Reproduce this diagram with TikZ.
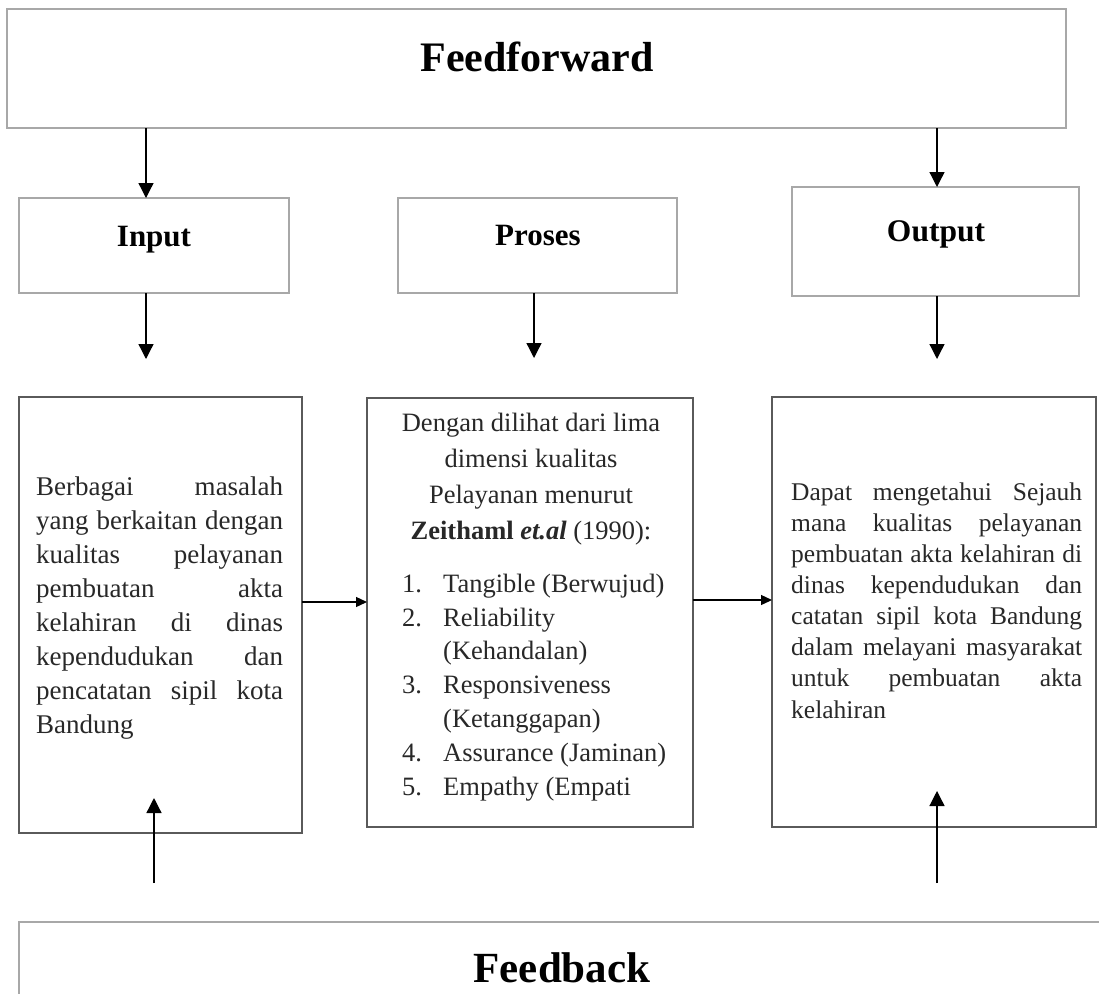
\documentclass[tikz,border=0pt]{standalone}
\usepackage{fontspec}
\setmainfont{Liberation Serif}
\usetikzlibrary{arrows.meta}
\definecolor{boxgrey}{RGB}{168,168,168}
\definecolor{boxdark}{RGB}{90,90,90}
\definecolor{bodytext}{RGB}{40,40,40}
\begin{document}
\begin{tikzpicture}[x=1pt,y=-1pt,
  lightbox/.style={draw=boxgrey, line width=2.5pt, fill=white, rectangle, inner sep=0pt, outer sep=0pt},
  darkbox/.style={draw=boxdark, line width=2.5pt, fill=white, rectangle, inner sep=0pt, outer sep=0pt},
  arr/.style={draw=black, line width=1.3pt, -{Triangle[width=15pt,length=15pt]}},
  harr/.style={draw=black, line width=1.3pt, -{Triangle[width=10pt,length=11pt]}},
  title/.style={font=\fontsize{42}{50}\selectfont\bfseries, inner sep=0pt, anchor=base},
  head/.style={font=\fontsize{31}{37}\selectfont\bfseries, inner sep=0pt, anchor=base},
  body/.style={inner sep=0pt, text=bodytext}
]
\useasboundingbox (0,0) rectangle (1099,993);
\clip (0,0) rectangle (1099,993);

% boxes
\node[lightbox, minimum width=1059pt, minimum height=119pt] (ff) at (536.5,68.5) {};
\node[lightbox, minimum width=270pt, minimum height=95pt] (in) at (154,245.5) {};
\node[lightbox, minimum width=279pt, minimum height=95pt] (pr) at (537.5,245.5) {};
\node[lightbox, minimum width=287pt, minimum height=109pt] (ou) at (935.5,241.5) {};
\node[darkbox, minimum width=283pt, minimum height=436pt] (inb) at (160.5,615) {};
\node[darkbox, minimum width=326pt, minimum height=429pt] (prb) at (530,612.5) {};
\node[darkbox, minimum width=324pt, minimum height=430pt] (oub) at (934,612) {};
\node[lightbox, minimum width=1096pt, minimum height=93pt] (fb) at (567,968.5) {};

% titles
\node[title] (fftxt) at (537,71) {Feedforward};
\node[head] (intxt) at (154,246) {Input};
\node[head] (prtxt) at (538,245) {Proses};
\node[head, font=\fontsize{31.5}{37}\selectfont\bfseries] (outxt) at (936,241) {Output};
\node[title, font=\fontsize{43}{50}\selectfont\bfseries] (fbtxt) at (562,982) {Feedback};

% body texts
\node[body, anchor=base west, font=\fontsize{27}{34}\selectfont] (inbody) at (36,733) {\vbox{\hsize=247pt\baselineskip=33.9pt\lineskiplimit=-20pt
  \hbox to\hsize{Berbagai\hfill masalah}
  \hbox to\hsize{yang berkaitan dengan}
  \hbox to\hsize{kualitas\hfill pelayanan}
  \hbox to\hsize{pembuatan\hfill akta}
  \hbox to\hsize{kelahiran\hfill di\hfill dinas}
  \hbox to\hsize{kependudukan\hfill dan}
  \hbox to\hsize{pencatatan\hfill sipil\hfill kota}
  \hbox to\hsize{Bandung\hfil}}};

\node[body, anchor=base, font=\fontsize{26.5}{35}\selectfont] (prhead) at (531,539) {\vbox{\hsize=330pt\baselineskip=35.7pt\lineskiplimit=-20pt
  \hbox to\hsize{\hfil Dengan dilihat dari lima\hfil}
  \hbox to\hsize{\hfil dimensi kualitas\hfil}
  \hbox to\hsize{\hfil Pelayanan menurut\hfil}
  \hbox to\hsize{\hfil{\bfseries Zeithaml \itshape et.al} (1990):\hfil}}};

\node[body, anchor=base west, font=\fontsize{26.5}{34}\selectfont] (prlist) at (402,795) {\vbox{\baselineskip=33.8pt\lineskiplimit=-20pt
  \hbox{\hbox to41pt{1.\hfil}Tangible (Berwujud)}
  \hbox{\hbox to41pt{2.\hfil}Reliability}
  \hbox{\hbox to41pt{\hfil}(Kehandalan)}
  \hbox{\hbox to41pt{3.\hfil}Responsiveness}
  \hbox{\hbox to41pt{\hfil}(Ketanggapan)}
  \hbox{\hbox to41pt{4.\hfil}Assurance (Jaminan)}
  \hbox{\hbox to41pt{5.\hfil}Empathy (Empati}}};

\node[body, anchor=base west, font=\fontsize{25.5}{31}\selectfont] (oubody) at (791,718) {\vbox{\hsize=291pt\baselineskip=31.1pt\lineskiplimit=-20pt
  \hbox to\hsize{Dapat\hfill mengetahui\hfill Sejauh}
  \hbox to\hsize{mana\hfill kualitas\hfill pelayanan}
  \hbox to\hsize{pembuatan\hfill akta\hfill kelahiran\hfill di}
  \hbox to\hsize{dinas\hfill kependudukan\hfill dan}
  \hbox to\hsize{catatan\hfill sipil\hfill kota\hfill Bandung}
  \hbox to\hsize{dalam\hfill melayani\hfill masyarakat}
  \hbox to\hsize{untuk\hfill pembuatan\hfill akta}
  \hbox to\hsize{kelahiran\hfil}}};

% coordinates for connectors
\coordinate (xa) at (146,0);
\coordinate (xb) at (937,0);
\coordinate (xc) at (534,0);
\coordinate (xd) at (154,0);
\coordinate (endin) at (146,359);
\coordinate (endpr) at (534,358);
\coordinate (endou) at (937,359);
\coordinate (startl) at (154,883);
\coordinate (startr) at (937,883);
\coordinate (tipl) at (154,798);
\coordinate (tipr) at (937,791);
\coordinate (h1) at (0,602);
\coordinate (h2) at (0,600);

% connectors
\draw[arr] (ff.south -| xa) -- (in.north -| xa);
\draw[arr] (ff.south -| xb) -- (ou.north -| xb);
\draw[arr] (in.south -| xa) -- (endin);
\draw[arr] (pr.south -| xc) -- (endpr);
\draw[arr] (ou.south -| xb) -- (endou);
\draw[harr] (inb.east |- h1) -- (prb.west |- h1);
\draw[harr] (prb.east |- h2) -- (oub.west |- h2);
\draw[arr] (startl) -- (tipl);
\draw[arr] (startr) -- (tipr);
\end{tikzpicture}
\end{document}
